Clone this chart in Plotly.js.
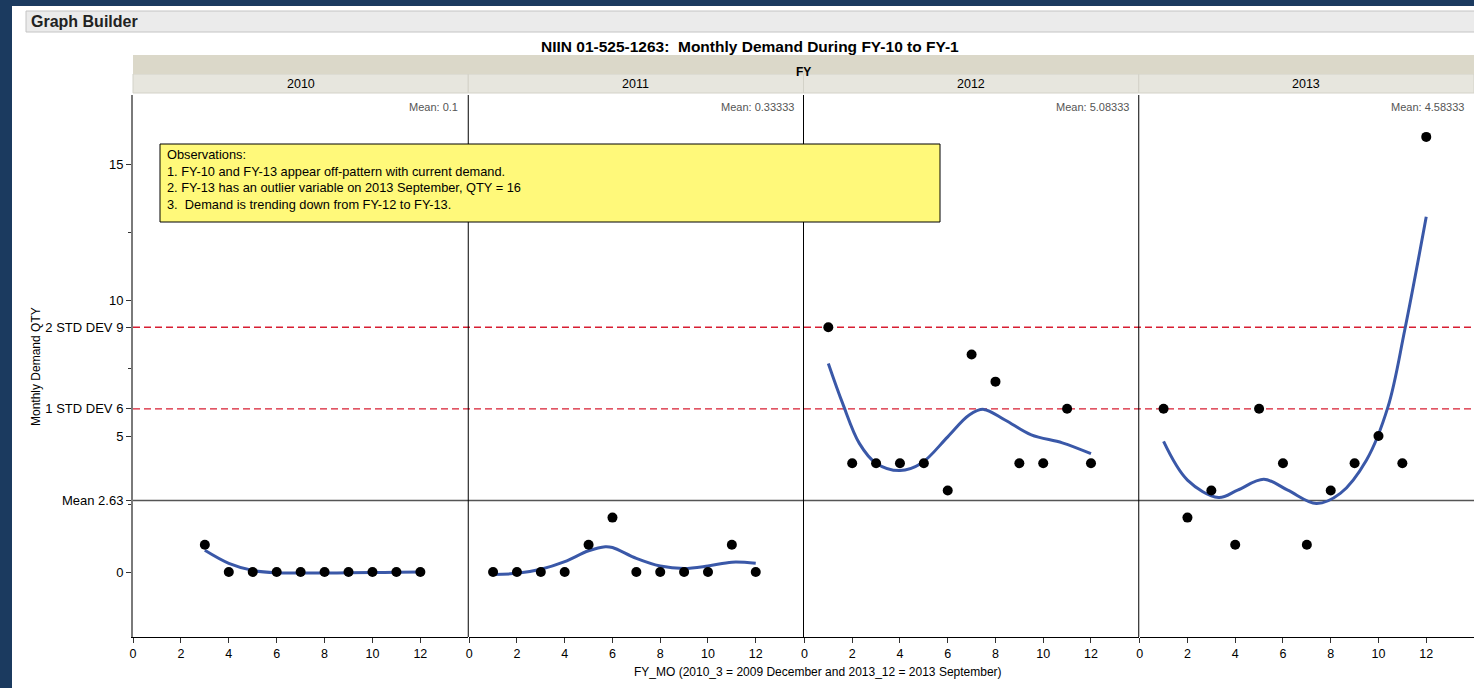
<!DOCTYPE html>
<html>
<head>
<meta charset="utf-8">
<script src="https://cdn.plot.ly/plotly-3.0.1.min.js"></script>
<style>
html,body{margin:0;padding:0;background:#fff;}
#chart{width:1474px;height:688px;}
</style>
</head>
<body>
<div id="chart"></div>
<script>
// ---- data ----
const years = ['2010', '2011', '2012', '2013'];
const meanLabels = ['Mean: 0.1', 'Mean: 0.33333', 'Mean: 5.08333', 'Mean: 4.58333'];
const months2010 = [3, 4, 5, 6, 7, 8, 9, 10, 11, 12];
const qty2010 = [1, 0, 0, 0, 0, 0, 0, 0, 0, 0];
const months = [1, 2, 3, 4, 5, 6, 7, 8, 9, 10, 11, 12];
const qty2011 = [0, 0, 0, 0, 1, 2, 0, 0, 0, 0, 1, 0];
const qty2012 = [9, 4, 4, 4, 4, 3, 8, 7, 4, 4, 6, 4];
const qty2013 = [6, 2, 3, 1, 6, 4, 1, 3, 4, 5, 4, 16];

// smoother curves
const fitX2010 = [3, 4, 5, 6, 7, 8, 9, 10, 11, 12];
const fitY2010 = [0.8, 0.32, 0.06, -0.03, -0.04, -0.04, -0.03, -0.02, -0.01, 0];
const fitX2011 = [1, 2, 3, 4, 5, 5.7, 6, 7, 8, 9, 10, 11, 12];
const fitY2011 = [-0.09, -0.05, 0.1, 0.38, 0.78, 0.93, 0.9, 0.5, 0.22, 0.13, 0.22, 0.36, 0.32];
const fitX2012 = [1, 1.6, 2.3, 3, 4, 4.9, 6, 6.9, 7.5, 8.4, 9.5, 10.8, 12];
const fitY2012 = [7.67, 6.2, 4.73, 4.0, 3.73, 4.0, 4.97, 5.77, 5.98, 5.59, 5.04, 4.75, 4.35];
const fitX2013 = [1, 2, 3.3, 4.1, 5.2, 6.2, 7.4, 8.4, 9.5, 10.4, 11.1, 12];
const fitY2013 = [4.8, 3.38, 2.74, 3.01, 3.41, 3.01, 2.52, 2.89, 4.12, 6.08, 8.9, 13.06];

const meanAll = 2.63, std1 = 6, std2 = 9;
const yTickVals = [0, 2.63, 5, 6, 9, 10, 15];
const yTickText = ['0', 'Mean 2.63', '5', '1 STD DEV 6', '2 STD DEV 9', '10', '15'];
const xTickVals = [0, 2, 4, 6, 8, 10, 12];

// ---- geometry helpers (layout only) ----
const W = 1474, H = 688, L = 133, R = 0, T = 95, B = 51;
const PW = W - L - R, PH = H - T - B;
const px = v => (v - L) / PW;
const py = v => (H - B - v) / PH;

const FONT = 'Liberation Sans, Arial, sans-serif';
const ptsX = [months2010, months, months, months];
const ptsY = [qty2010, qty2011, qty2012, qty2013];
const fX = [fitX2010, fitX2011, fitX2012, fitX2013];
const fY = [fitY2010, fitY2011, fitY2012, fitY2013];

const traces = [];
const layout = {
  width: W, height: H,
  margin: {l: L, r: R, t: T, b: B},
  paper_bgcolor: '#ffffff', plot_bgcolor: '#ffffff',
  showlegend: false, hovermode: false,
  font: {family: FONT, size: 12, color: '#000'},
  yaxis: {
    range: [-2.39, 17.54], showgrid: false, zeroline: false,
    showline: true, linecolor: '#7a7a7a', linewidth: 2,
    ticks: 'outside', ticklen: 5, tickcolor: '#333', tickwidth: 1,
    tickmode: 'array', tickvals: yTickVals, ticktext: yTickText,
    tickfont: {family: FONT, size: 13, color: '#000'},
    minor: {tickmode: 'array', tickvals: [2.5, 7.5, 12.5], ticks: 'outside', ticklen: 3, tickcolor: '#333'}
  },
  shapes: [], annotations: []
};

for (let i = 0; i < 4; i++) {
  const ax = i === 0 ? 'x' : 'x' + (i + 1);
  const axKey = i === 0 ? 'xaxis' : 'xaxis' + (i + 1);
  layout[axKey] = {
    domain: [i * 0.25 + (i ? 0.0007 : 0), (i + 1) * 0.25], anchor: 'y',
    range: [0, 14], showgrid: false, zeroline: false,
    showline: true, linecolor: '#000', linewidth: 1,
    ticks: 'outside', ticklen: 5, tickcolor: '#333',
    tickmode: 'array', tickvals: xTickVals,
    tickfont: {family: FONT, size: 12.5, color: '#000'}
  };
  traces.push({
    x: fX[i], y: fY[i], xaxis: ax, yaxis: 'y', type: 'scatter', mode: 'lines',
    line: {color: '#3a58a8', width: 3, shape: 'spline', smoothing: 1}
  });
  traces.push({
    x: ptsX[i], y: ptsY[i], xaxis: ax, yaxis: 'y', type: 'scatter', mode: 'markers',
    marker: {color: '#000', size: 10}
  });
  // panel header
  const x0 = i * 0.25, x1 = (i + 1) * 0.25;
  layout.shapes.push({type: 'rect', xref: 'paper', yref: 'paper', x0: x0, x1: x1, y0: py(93), y1: py(74),
    fillcolor: '#e7e6de', line: {color: '#d3d2c8', width: 1}, layer: 'above'});
  layout.annotations.push({xref: 'paper', yref: 'paper', x: (x0 + x1) / 2, y: py(83.5), text: years[i],
    showarrow: false, font: {family: FONT, size: 12.5, color: '#000'}, xanchor: 'center', yanchor: 'middle'});
  layout.annotations.push({xref: 'paper', yref: 'paper', x: x1 - px(L + 8) , y: py(107), text: meanLabels[i],
    showarrow: false, font: {family: FONT, size: 11, color: '#555'}, xanchor: 'right', yanchor: 'middle'});
  if (i > 0) {
    layout.shapes.push({type: 'line', xref: 'paper', yref: 'paper', x0: x0, x1: x0, y0: 0, y1: 1,
      line: {color: '#000', width: 1}, layer: 'above'});
  }
}

// reference lines
layout.shapes.push({type: 'line', xref: 'paper', yref: 'y', x0: 0, x1: 1, y0: meanAll, y1: meanAll,
  line: {color: '#555', width: 1.5}, layer: 'below'});
[std1, std2].forEach(v => layout.shapes.push({type: 'line', xref: 'paper', yref: 'y', x0: 0, x1: 1, y0: v, y1: v,
  line: {color: '#d81e32', width: 1.3, dash: '7px,4px'}, layer: 'below'}));

// FY band
layout.shapes.push({type: 'rect', xref: 'paper', yref: 'paper', x0: 0, x1: 1, y0: py(74), y1: py(55),
  fillcolor: '#dbd8c9', line: {width: 0}, layer: 'above'});
layout.annotations.push({xref: 'paper', yref: 'paper', x: px(803), y: py(63), text: '<b>FY</b>',
  showarrow: false, font: {family: FONT, size: 12, color: '#000'}});

// chrome: navy frame & Graph Builder bar
layout.shapes.push({type: 'rect', xref: 'paper', yref: 'paper', x0: px(0), x1: px(12), y0: py(688), y1: py(0),
  fillcolor: '#1b3a5f', line: {width: 0}, layer: 'above'});
layout.shapes.push({type: 'rect', xref: 'paper', yref: 'paper', x0: px(0), x1: px(1474), y0: py(6), y1: py(0),
  fillcolor: '#1b3a5f', line: {width: 0}, layer: 'above'});
layout.shapes.push({type: 'rect', xref: 'paper', yref: 'paper', x0: px(26), x1: px(1480), y0: py(32), y1: py(11),
  fillcolor: '#ebebeb', line: {color: '#c4c4c4', width: 1}, layer: 'above'});
layout.annotations.push({xref: 'paper', yref: 'paper', x: px(29), y: py(21.5), text: '<b>Graph Builder</b>',
  showarrow: false, xanchor: 'left', yanchor: 'middle', font: {family: FONT, size: 16, color: '#222'}});

// title
layout.annotations.push({xref: 'paper', yref: 'paper', x: px(750), y: py(46), text: '<b>NIIN 01-525-1263:\u00a0 Monthly Demand During FY-10 to FY-1</b>',
  showarrow: false, xanchor: 'center', yanchor: 'middle', font: {family: FONT, size: 15.5, color: '#000'}});

// axis titles
layout.annotations.push({xref: 'paper', yref: 'paper', x: px(36), y: py(367), text: 'Monthly Demand QTY', textangle: -90,
  showarrow: false, xanchor: 'center', yanchor: 'middle', font: {family: FONT, size: 12, color: '#000'}});
layout.annotations.push({xref: 'paper', yref: 'paper', x: px(818), y: py(672), text: 'FY_MO (2010_3 = 2009 December and 2013_12 = 2013 September)',
  showarrow: false, xanchor: 'center', yanchor: 'middle', font: {family: FONT, size: 12, color: '#000'}});

// observations box
layout.shapes.push({type: 'rect', xref: 'paper', yref: 'paper', x0: px(160), x1: px(940), y0: py(222), y1: py(144),
  fillcolor: '#fff97a', line: {color: '#000', width: 1}, layer: 'above'});
layout.annotations.push({xref: 'paper', yref: 'paper', x: px(165), y: py(144.5), xanchor: 'left', yanchor: 'top', align: 'left',
  text: 'Observations:<br>1. FY-10 and FY-13 appear off-pattern with current demand.<br>2. FY-13 has an outlier variable on 2013 September, QTY = 16<br>3.\u00a0 Demand is trending down from FY-12 to FY-13.',
  showarrow: false, font: {family: 'Liberation Sans Narrow, ' + FONT, size: 12.8, color: '#000'}});

Plotly.newPlot('chart', traces, layout, {displayModeBar: false, staticPlot: true});
</script>
</body>
</html>
